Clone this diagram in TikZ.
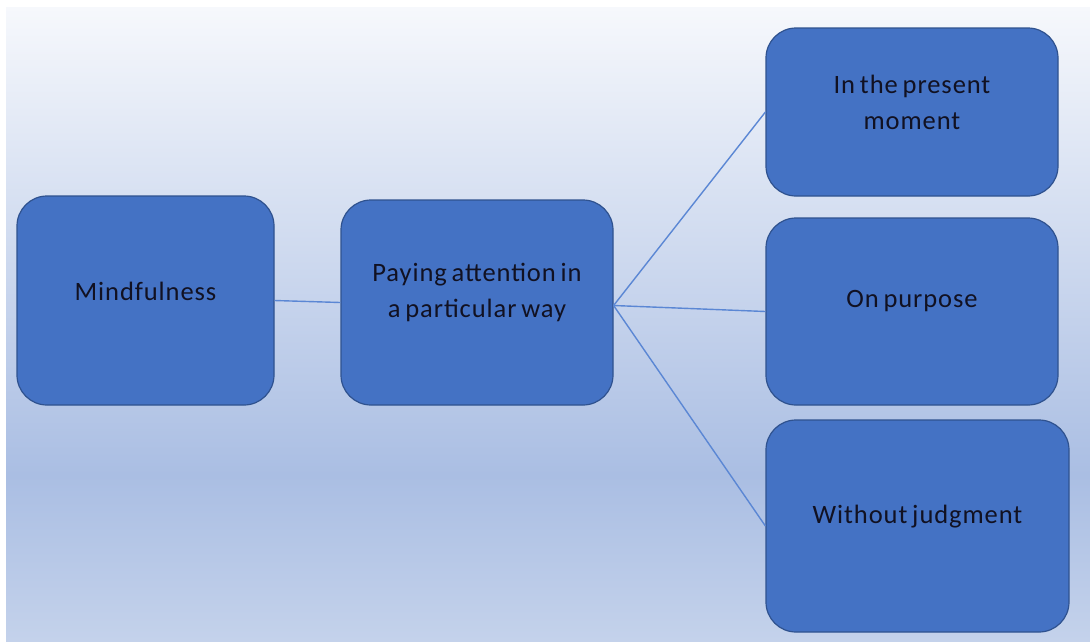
\documentclass[tikz,border=0pt]{standalone}
\usepackage{fontspec}
\setmainfont{Carlito}[LetterSpace=3.5, WordSpace=0.7]
\definecolor{boxfill}{HTML}{4472C4}
\definecolor{boxline}{HTML}{2F528F}
\definecolor{link}{HTML}{5B87D4}
\definecolor{bgtop}{HTML}{F6F8FC}
\definecolor{bgmid}{HTML}{AABEE3}
\definecolor{bgbot}{HTML}{C4D2EB}
\definecolor{ink}{HTML}{111122}
\tikzset{
  box/.style={draw=boxline, line width=1.2pt, fill=boxfill, rectangle,
    rounded corners=30pt, inner sep=0pt},
  lbl/.style={text=ink, font=\fontsize{26.5}{36}\selectfont, align=center, inner sep=0pt},
  link/.style={draw=link, line width=1.4pt}
}
\begin{document}
\begin{tikzpicture}[x=1pt,y=-1pt]
\useasboundingbox (0,0) rectangle (1090,641);
\fill[white] (0,0) rectangle (1090,641);
% background gradient
\shade[top color=bgtop, bottom color=bgmid] (6,7) rectangle (1090,475);
\shade[top color=bgmid, bottom color=bgbot] (6,475) rectangle (1090,641);

% boxes
\node[box, minimum width=257pt, minimum height=209pt] (mind) at (145.5,300.5) {};
\node[box, minimum width=272pt, minimum height=205pt] (pay) at (477,302.5) {};
\node[box, minimum width=292pt, minimum height=168pt] (pres) at (912,112) {};
\node[box, minimum width=292pt, minimum height=187pt] (purp) at (912,311.5) {};
\node[box, minimum width=303pt, minimum height=212pt] (judg) at (917.5,526) {};

% connectors
\coordinate (fork) at ([yshift=-3pt]pay.east);
\draw[link] (mind.east) -- (pay.west);
\draw[link] (fork) -- (pres.west);
\draw[link] (fork) -- (purp.west);
\draw[link] (fork) -- (judg.west);

% labels
\node[lbl] (tmind) at ([yshift=9pt]mind.center) {Mindfulness};
\node[lbl] (tpay) at ([yshift=10pt]pay.center) {Paying attention in\\a particular way};
\node[lbl] (tpres) at ([yshift=10pt]pres.center) {In the present\\moment};
\node[lbl] (tpurp) at ([yshift=10pt]purp.center) {On purpose};
\node[lbl] (tjudg) at ([yshift=9pt]judg.center) {Without judgment};
\end{tikzpicture}
\end{document}
